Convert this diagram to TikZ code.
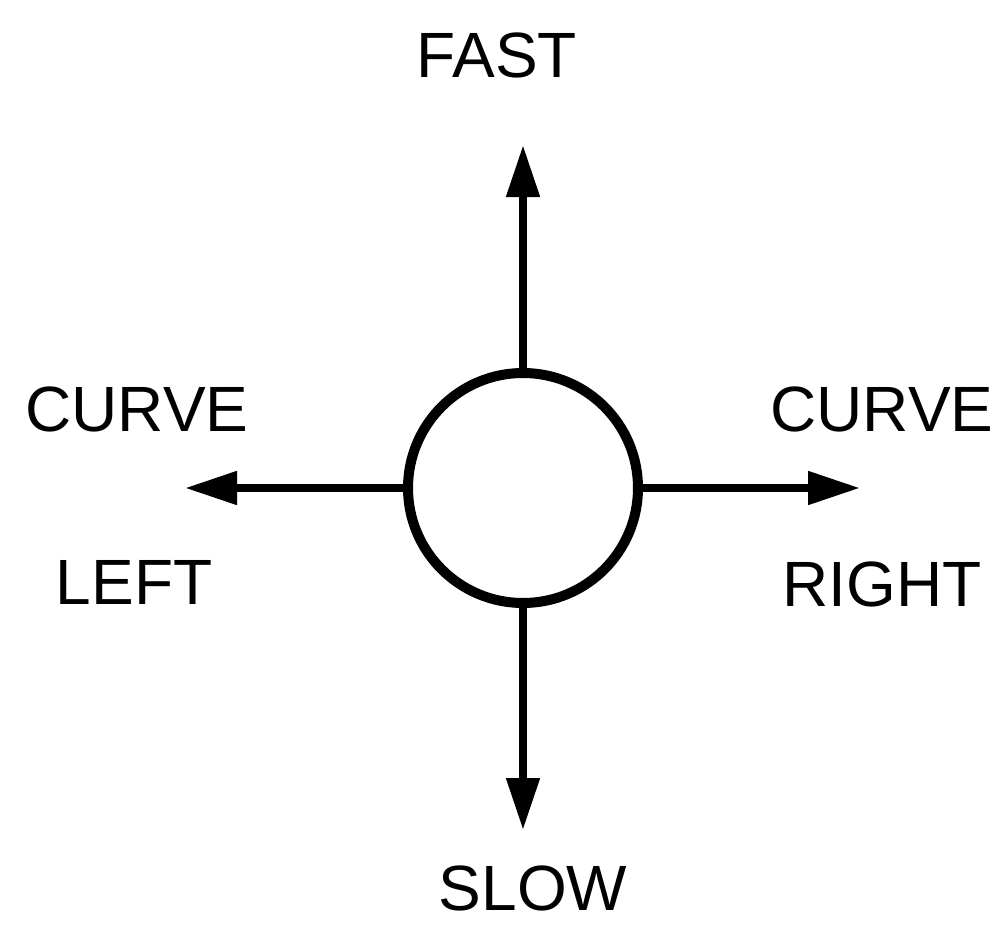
\documentclass[tikz,border=0pt]{standalone}
\usepackage{fontspec}
\setmainfont{Liberation Sans}
\usetikzlibrary{arrows.meta}
\tikzset{
  lbl/.style={inner sep=0pt, anchor=center, font=\fontsize{64}{64}\selectfont},
  conn/.style={line width=8pt, -{Triangle[length=52pt,width=32pt]}},
  ring/.style={circle, draw, line width=10pt, minimum size=230pt, inner sep=0pt}
}
\begin{document}
\begin{tikzpicture}[x=1pt,y=-1pt]
\useasboundingbox (0,0) rectangle (1007,926);
\node[ring] (c) at (523,488) {};
\coordinate (tn) at (523,145);
\coordinate (ts) at (523,830);
\coordinate (tw) at (185,488);
\coordinate (te) at (860,488);
\draw[conn] (c.north) -- (tn);
\draw[conn] (c.south) -- (ts);
\draw[conn] (c.west) -- (tw);
\draw[conn] (c.east) -- (te);
\node[lbl] (fast) at (497,55) {FAST};
\node[lbl] (slow) at (533,888) {SLOW};
\node[lbl] (cl) at (137,409) {CURVE};
\node[lbl] (ll) at (134,582) {LEFT};
\node[lbl] (cr) at (882,409) {CURVE};
\node[lbl] (rr) at (882,584) {RIGHT};
\end{tikzpicture}
\end{document}
